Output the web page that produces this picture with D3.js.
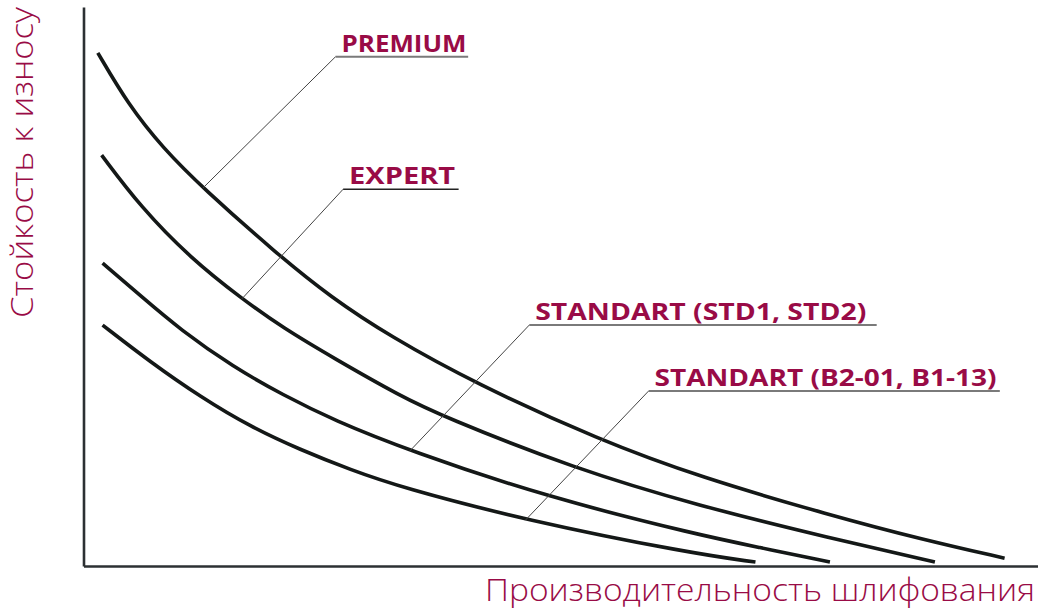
<!DOCTYPE html>
<html>
<head>
<meta charset="utf-8">
<script src="https://cdn.jsdelivr.net/npm/d3@7/dist/d3.min.js"></script>
<style>
  html, body { margin: 0; padding: 0; background: #ffffff; }
  svg { display: block; }
</style>
</head>
<body>
<script>
// ---- Data (arbitrary units, 0-100 on both axes) ----
const seriesNames = ["PREMIUM", "EXPERT", "STANDART (STD1, STD2)", "STANDART (B2-01, B1-13)"];

const premiumX = [1.5, 4.7, 8.3, 12.5, 20.3, 25.9, 32.1, 41.0, 54.1, 64.6, 78.2, 88.0, 96.5];
const premiumY = [91.8, 82.5, 74.8, 67.6, 55.8, 48.1, 41.1, 32.7, 22.5, 15.9, 9.1, 4.7, 1.4];

const expertX = [1.9, 6.0, 11.2, 16.6, 20.9, 26.2, 33.2, 37.6, 51.3, 64.6, 78.2, 89.2];
const expertY = [73.5, 64.2, 55.1, 47.8, 42.6, 37.2, 30.4, 26.8, 17.5, 10.7, 5.0, 0.7];

const std1X = [2.0, 6.0, 10.2, 15.7, 20.9, 26.2, 34.2, 48.6, 64.6, 70.6, 78.2];
const std1Y = [54.2, 48.3, 42.2, 35.6, 30.6, 26.1, 20.6, 12.3, 5.5, 3.4, 0.7];

const b2X = [2.0, 7.0, 12.3, 17.5, 22.7, 28.0, 33.2, 46.3, 63.6, 70.4];
const b2Y = [43.1, 36.5, 30.2, 24.9, 20.8, 17.2, 14.1, 8.2, 2.3, 0.7];

// leader lines: index of anchor point on curve, elbow point, underline end x
const leaderAnchorIndex = [3, 3, 6, 7];
const leaderElbowX = [26.4, 27.2, 46.7, 59.2];
const leaderElbowY = [91.1, 67.4, 43.1, 31.3];
const leaderEndX = [40.3, 39.3, 83.1, 96.0];

const xAxisTitle = "Производительность шлифования";
const yAxisTitle = "Стойкость к износу";

// ---- Layout ----
const W = 1038, H = 609;
const x0 = 83.5, x1 = 1038, y0 = 566, y1 = 7;
const maroon = "#990b46";

const svg = d3.select("body").append("svg")
  .attr("width", W).attr("height", H);

const x = d3.scaleLinear().domain([0, 100]).range([x0, x1]);
const y = d3.scaleLinear().domain([0, 100]).range([y0, y1]);

const series = [
  { name: seriesNames[0], xs: premiumX, ys: premiumY },
  { name: seriesNames[1], xs: expertX, ys: expertY },
  { name: seriesNames[2], xs: std1X, ys: std1Y },
  { name: seriesNames[3], xs: b2X, ys: b2Y }
].map(s => ({ name: s.name, pts: s.xs.map((v, i) => [v, s.ys[i]]) }));

// axes (plain lines, no ticks)
const axisG = svg.append("g");
axisG.append("g")
  .attr("transform", `translate(0,${y0})`)
  .call(d3.axisBottom(x).ticks(0).tickSizeOuter(0))
  .call(g => g.select(".domain").attr("stroke", "#2c3033").attr("stroke-width", 2.6));
axisG.append("g")
  .attr("transform", `translate(${x0},0)`)
  .call(d3.axisLeft(y).ticks(0).tickSizeOuter(0))
  .call(g => g.select(".domain").attr("stroke", "#2c3033").attr("stroke-width", 2.6));

// curves
const line = d3.line()
  .x(d => x(d[0])).y(d => y(d[1]))
  .curve(d3.curveBasis);

svg.append("g").selectAll("path.curve")
  .data(series)
  .join("path")
  .attr("class", "curve")
  .attr("d", d => line(d.pts))
  .attr("fill", "none")
  .attr("stroke", "#141817")
  .attr("stroke-width", 3.6)
  .attr("stroke-linecap", "butt");

// leader lines & labels
const labelWidths = [125, 106, 331, 342];
const leaderG = svg.append("g");
series.forEach((s, i) => {
  const a = s.pts[leaderAnchorIndex[i]];
  const ex = x(leaderElbowX[i]), ey = y(leaderElbowY[i]);
  leaderG.append("line")
    .attr("x1", x(a[0])).attr("y1", y(a[1]))
    .attr("x2", ex).attr("y2", ey)
    .attr("stroke", "#444").attr("stroke-width", 1);
  leaderG.append("line")
    .attr("x1", ex).attr("y1", ey)
    .attr("x2", x(leaderEndX[i])).attr("y2", ey)
    .attr("stroke", i === 1 ? "#222" : "#7a7a7a")
    .attr("stroke-width", i === 1 ? 1.6 : 2);
  leaderG.append("text")
    .attr("x", ex + 6).attr("y", ey - 5)
    .attr("font-family", "'Open Sans', sans-serif")
    .attr("font-weight", 700)
    .attr("font-size", 24)
    .attr("fill", maroon)
    .attr("textLength", labelWidths[i])
    .attr("lengthAdjust", "spacingAndGlyphs")
    .text(s.name);
});

// axis titles
svg.append("text")
  .attr("x", 485).attr("y", 601)
  .attr("font-family", "'Open Sans', sans-serif")
  .attr("font-weight", 300)
  .attr("font-size", 32)
  .attr("fill", maroon)
  .attr("textLength", 550)
  .attr("lengthAdjust", "spacingAndGlyphs")
  .text(xAxisTitle);

svg.append("text")
  .attr("transform", "translate(33,318) rotate(-90)")
  .attr("font-family", "'Open Sans', sans-serif")
  .attr("font-weight", 300)
  .attr("font-size", 32)
  .attr("fill", maroon)
  .attr("textLength", 311)
  .attr("lengthAdjust", "spacingAndGlyphs")
  .text(yAxisTitle);
</script>
</body>
</html>
